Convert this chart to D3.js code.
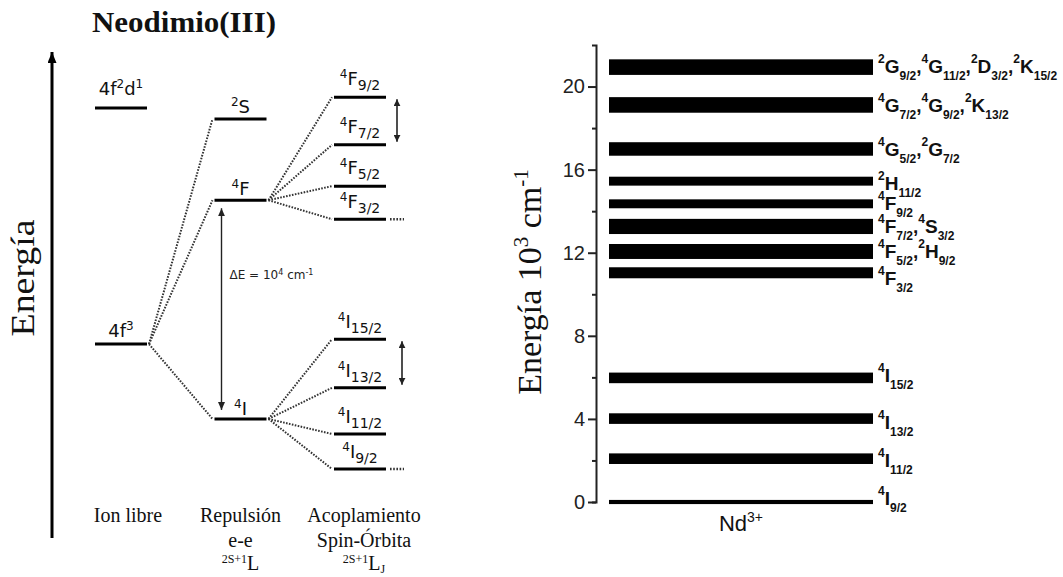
<!DOCTYPE html>
<html><head><meta charset="utf-8">
<script src="https://cdn.jsdelivr.net/npm/d3@7"></script>
<style>body{margin:0;background:#fff}</style>
</head><body>
<svg id="c" width="1063" height="577"></svg>
<script>
// ---------------- Right panel data (energies in 10^3 cm^-1) ----------------
const ionCategory = ["Nd"];
const stateLabels = [
  "^{2}G_{9/2},^{4}G_{11/2},^{2}D_{3/2},^{2}K_{15/2}",
  "^{4}G_{7/2},^{4}G_{9/2},^{2}K_{13/2}",
  "^{4}G_{5/2},^{2}G_{7/2}",
  "^{2}H_{11/2}",
  "^{4}F_{9/2}",
  "^{4}F_{7/2},^{4}S_{3/2}",
  "^{4}F_{5/2},^{2}H_{9/2}",
  "^{4}F_{3/2}",
  "^{4}I_{15/2}",
  "^{4}I_{13/2}",
  "^{4}I_{11/2}",
  "^{4}I_{9/2}"
];
const energyLow  = [20.56, 18.74, 16.67, 15.23, 14.14, 12.90, 11.70, 10.77, 5.72, 3.76, 1.83, -0.10];
const energyHigh = [21.31, 19.49, 17.32, 15.66, 14.57, 13.63, 12.42, 11.30, 6.23, 4.27, 2.34, 0.10];
const majorTicks = [0, 4, 8, 12, 16, 20];
const minorTicks = [2, 6, 10, 14, 18];

// ---------------- Left panel data (schematic energy, arbitrary units) ----------------
const leftColumns = ["Ion libre", "Repulsión e-e", "Acoplamiento Spin-Órbita"];
const leftColumnText = [
  ["Ion libre"],
  ["Repulsión", "e-e", "^{2S+1}L"],
  ["Acoplamiento", "Spin-Órbita", "^{2S+1}L_{J}"]
];
const leftLevelNames  = ["4f^{2}d^{1}", "4f^{3}", "^{2}S", "^{4}F", "^{4}I",
                         "^{4}F_{9/2}", "^{4}F_{7/2}", "^{4}F_{5/2}", "^{4}F_{3/2}",
                         "^{4}I_{15/2}", "^{4}I_{13/2}", "^{4}I_{11/2}", "^{4}I_{9/2}"];
const leftLevelColumn = [0, 0, 1, 1, 1, 2, 2, 2, 2, 2, 2, 2, 2];
const leftLevelEnergy = [88.5, 39.9, 86.2, 69.5, 24.5, 90.7, 80.9, 72.4, 65.6, 40.9, 30.9, 21.4, 14.2];
const leftLevelParent = [-1, -1, 1, 1, 1, 3, 3, 3, 3, 4, 4, 4, 4];
const splitPairs = [[5, 6], [9, 10]];       // double-headed arrows
const gapPair = [3, 4];                      // ΔE arrow between 4F and 4I
const tailLevels = [8, 12];                  // dotted tails
const deltaLabel = "ΔE = 10^{4} cm^{-1}";

// ---------------- layout / style ----------------
const rightLabelDy = [6, 7, 7, 9, 6, 7, 6.5, 12, 4, 10, 8, 3];
const leftLabelDy = [-13, -7, -6, -5, -4, -12, -12, -12, -11, -11, -11, -11, -11];
const leftColLabelDx = [7, 0, 4];
const leftColLabelY = [522, 547, 570];
const splitArrowDx = [11, 16];

const svg = d3.select("#c");
const defs = svg.append("defs");
function marker(id, len, wid, col) {
  defs.append("marker").attr("id", id)
    .attr("viewBox", `0 0 ${len} ${wid}`).attr("refX", len).attr("refY", wid / 2)
    .attr("markerWidth", len).attr("markerHeight", wid)
    .attr("markerUnits", "userSpaceOnUse").attr("orient", "auto-start-reverse")
    .append("path").attr("d", `M0,0L${len},${wid / 2}L0,${wid}Z`).attr("fill", col);
}
marker("headBig", 11, 9, "#000");
marker("headSmall", 7, 7, "#222");
marker("headThin", 8, 7, "#222");

function richText(sel, markup, s) {
  const re = /\^\{([^}]*)\}|_\{([^}]*)\}|([^\^_]+)/g;
  let m, cur = 0;
  while ((m = re.exec(markup))) {
    let kind, txt;
    if (m[1] !== undefined) { kind = "sup"; txt = m[1]; }
    else if (m[2] !== undefined) { kind = "sub"; txt = m[2]; }
    else { kind = "main"; txt = m[3]; }
    const target = kind === "sup" ? s.supShift : kind === "sub" ? s.subShift : 0;
    sel.append("tspan").attr("dy", target - cur).attr("font-size", s[kind]).text(txt);
    cur = target;
  }
}

// ======================= LEFT PANEL =======================
const gL = svg.append("g");
const yL = d3.scaleLinear().domain([0, 100]).range([538, 52]);
const xL = d3.scalePoint().domain([0, 1, 2]).range([121, 360]);
const halfW = 26;

gL.append("text").attr("x", 92).attr("y", 32)
  .attr("font-family", "Liberation Serif, Times New Roman, serif").attr("font-weight", "bold")
  .attr("font-size", 30).attr("textLength", 184).attr("lengthAdjust", "spacingAndGlyphs")
  .attr("fill", "#111").text("Neodimio(III)");

// energy axis arrow
gL.append("line").attr("x1", 52).attr("x2", 52).attr("y1", yL(0)).attr("y2", yL(100))
  .attr("stroke", "#000").attr("stroke-width", 3).attr("marker-end", "url(#headBig)");
gL.append("text").attr("transform", `translate(34,278) rotate(-90)`)
  .attr("text-anchor", "middle").attr("font-family", "Liberation Serif, Times New Roman, serif")
  .attr("font-size", 34).attr("textLength", 117).attr("lengthAdjust", "spacingAndGlyphs")
  .attr("fill", "#111").text("Energía");

const levels = leftLevelNames.map((n, i) => ({
  name: n, col: leftLevelColumn[i], e: leftLevelEnergy[i], parent: leftLevelParent[i], i
}));

// dotted links
gL.selectAll("line.link").data(levels.filter(d => d.parent >= 0)).join("line")
  .attr("class", "link")
  .attr("x1", d => xL(levels[d.parent].col) + halfW + 2)
  .attr("y1", d => yL(levels[d.parent].e))
  .attr("x2", d => xL(d.col) - halfW - 2)
  .attr("y2", d => yL(d.e))
  .attr("stroke", "#333").attr("stroke-width", 2).attr("stroke-dasharray", "1.6,1.4");

// dotted tails
gL.selectAll("line.tail").data(tailLevels.map(i => levels[i])).join("line")
  .attr("class", "tail")
  .attr("x1", d => xL(d.col) + halfW + 4).attr("x2", d => xL(d.col) + halfW + 18)
  .attr("y1", d => yL(d.e)).attr("y2", d => yL(d.e))
  .attr("stroke", "#333").attr("stroke-width", 2.5).attr("stroke-dasharray", "1.6,1.6");

// level lines
gL.selectAll("line.level").data(levels).join("line")
  .attr("class", "level")
  .attr("x1", d => xL(d.col) - halfW).attr("x2", d => xL(d.col) + halfW)
  .attr("y1", d => yL(d.e)).attr("y2", d => yL(d.e))
  .attr("stroke", "#000").attr("stroke-width", 3);

// level labels
levels.forEach(d => {
  const big = d.col < 2;
  const t = gL.append("text").attr("x", xL(d.col)).attr("y", yL(d.e) + leftLabelDy[d.i])
    .attr("text-anchor", "middle").attr("font-family", "DejaVu Sans, Verdana, sans-serif")
    .attr("fill", "#111");
  richText(t, d.name, big ? { main: 18, sup: 12, sub: 13, supShift: -7, subShift: 5 }
                          : { main: 18, sup: 12, sub: 14, supShift: -7, subShift: 5 });
});

// split arrows
splitPairs.forEach((p, k) => {
  const a = levels[p[0]], b = levels[p[1]];
  const x = xL(a.col) + halfW + splitArrowDx[k];
  gL.append("line").attr("x1", x).attr("x2", x)
    .attr("y1", yL(a.e) + 2).attr("y2", yL(b.e) - 3)
    .attr("stroke", "#222").attr("stroke-width", 1.6)
    .attr("marker-start", "url(#headSmall)").attr("marker-end", "url(#headSmall)");
});

// ΔE arrow
{
  const a = levels[gapPair[0]], b = levels[gapPair[1]];
  const x = xL(a.col) - halfW + 7;
  gL.append("line").attr("x1", x).attr("x2", x)
    .attr("y1", yL(a.e) + 8).attr("y2", yL(b.e) - 9)
    .attr("stroke", "#222").attr("stroke-width", 1.4)
    .attr("marker-start", "url(#headThin)").attr("marker-end", "url(#headThin)");
  const t = gL.append("text").attr("x", x + 8).attr("y", 279)
    .attr("font-family", "DejaVu Sans, Verdana, sans-serif").attr("fill", "#222");
  richText(t, deltaLabel, { main: 12, sup: 8, sub: 8, supShift: -4, subShift: 3 });
}

// column labels
leftColumnText.forEach((lines, c) => {
  lines.forEach((ln, j) => {
    const t = gL.append("text").attr("x", xL(c) + leftColLabelDx[c]).attr("y", leftColLabelY[j])
      .attr("text-anchor", "middle").attr("font-family", "Liberation Serif, Times New Roman, serif")
      .attr("fill", "#111");
    richText(t, ln, { main: 20, sup: 12, sub: 12, supShift: -7, subShift: 3 });
  });
});

// ======================= RIGHT PANEL =======================
const gR = svg.append("g");
const yR = d3.scaleLinear().domain([0, 22]).range([502, 45]);
const xR = d3.scaleBand().domain(ionCategory).range([609, 873]).padding(0);
const axisX = 596;

const axMajor = gR.append("g").attr("transform", `translate(${axisX},0)`)
  .call(d3.axisLeft(yR).tickValues(majorTicks).tickSize(8).tickSizeOuter(4).tickPadding(3).tickFormat(d3.format("d")));
axMajor.select(".domain").attr("stroke", "#222").attr("stroke-width", 2);
axMajor.selectAll(".tick line").attr("stroke", "#222").attr("stroke-width", 2);
axMajor.selectAll(".tick text").attr("font-family", "Liberation Sans, Arial, sans-serif")
  .attr("font-size", 20).attr("fill", "#222");

const axMinor = gR.append("g").attr("transform", `translate(${axisX},0)`)
  .call(d3.axisLeft(yR).tickValues(minorTicks).tickSize(4).tickFormat(""));
axMinor.select(".domain").remove();
axMinor.selectAll(".tick line").attr("stroke", "#222").attr("stroke-width", 2);

const bars = energyLow.map((lo, i) => ({ lo, hi: energyHigh[i], label: stateLabels[i], i }));
gR.selectAll("rect.bar").data(bars).join("rect")
  .attr("class", "bar")
  .attr("x", xR("Nd")).attr("width", xR.bandwidth())
  .attr("y", d => yR(d.hi)).attr("height", d => yR(d.lo) - yR(d.hi))
  .attr("fill", "#000");

bars.forEach(d => {
  const t = gR.append("text").attr("x", xR("Nd") + xR.bandwidth() + 5)
    .attr("y", yR((d.lo + d.hi) / 2) + rightLabelDy[d.i])
    .attr("font-family", "Liberation Sans, Arial, sans-serif").attr("font-weight", "bold")
    .attr("fill", "#111");
  richText(t, d.label, { main: 19, sup: 12, sub: 12, supShift: -10, subShift: 7 });
});

// category label
{
  const t = gR.append("text").attr("x", xR("Nd") + xR.bandwidth() / 2).attr("y", 531)
    .attr("text-anchor", "middle").attr("font-family", "Liberation Sans, Arial, sans-serif")
    .attr("fill", "#111");
  richText(t, "Nd^{3+}", { main: 22, sup: 14, sub: 14, supShift: -9, subShift: 4 });
}

// y axis title
{
  const t = gR.append("text").attr("transform", `translate(541,282) rotate(-90)`)
    .attr("text-anchor", "middle").attr("font-family", "Liberation Serif, Times New Roman, serif")
    .attr("fill", "#111");
  richText(t, "Energía 10^{3} cm^{-1}", { main: 34, sup: 21, sub: 21, supShift: -13, subShift: 6 });
}
</script>
</body></html>
